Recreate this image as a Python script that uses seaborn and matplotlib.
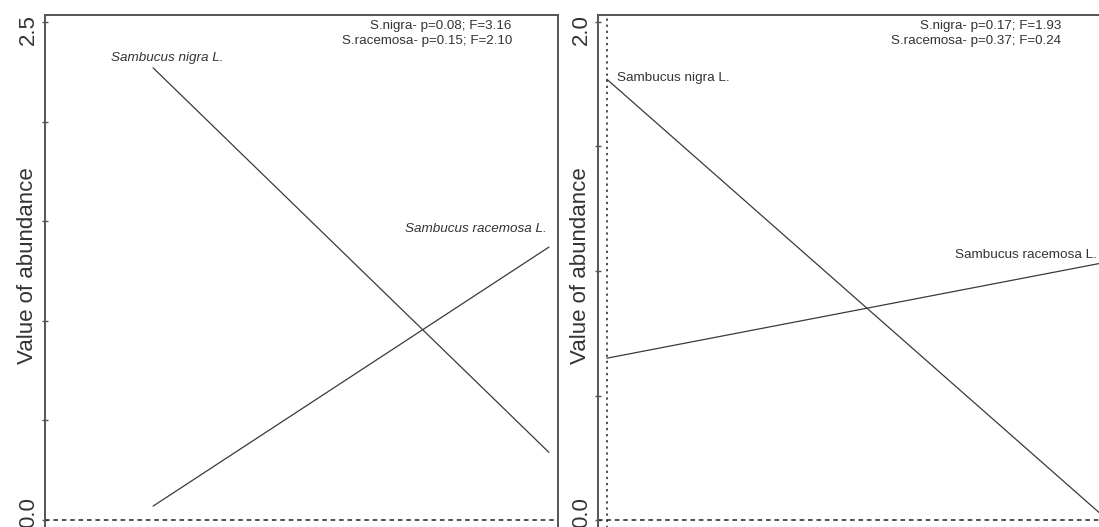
import numpy as np
import pandas as pd
import matplotlib.pyplot as plt
import matplotlib.transforms as mtransforms
import seaborn as sns

# Response curves (start / end of each line)
x_pos = [0, 1]
left_nigra = [2.27, 0.34]
left_racemosa = [0.07, 1.37]
right_nigra = [1.77, 0.03]
right_racemosa = [0.65, 1.03]

left_yticks = [0.0, 0.5, 1.0, 1.5, 2.0, 2.5]
left_ylabels = ['0.0', '', '', '', '', '2.5']
right_yticks = [0.0, 0.5, 1.0, 1.5, 2.0]
right_ylabels = ['0.0', '', '', '', '2.0']

left_stats = "S.nigra- p=0.08; F=3.16\nS.racemosa- p=0.15; F=2.10"
right_stats = "S.nigra- p=0.17; F=1.93\nS.racemosa- p=0.37; F=0.24"

sns.set_style("ticks")
plt.rcParams['font.family'] = ['Liberation Sans', 'DejaVu Sans']

line_col = '#3a3a3a'
spine_col = '#555555'
text_col = '#333333'

W, H = 1099, 527
fig = plt.figure(figsize=(W / 100, H / 100), dpi=100)


def px_axes(x0, x1, y0, y1):
    # pixel box (top-left origin) -> figure fraction
    return fig.add_axes([x0 / W, 1 - y1 / H, (x1 - x0) / W, (y1 - y0) / H])


ax1 = px_axes(45, 558, 15, 540)
ax2 = px_axes(598, 1110, 15, 540)

left_df = pd.DataFrame({
    'x': x_pos * 2,
    'y': left_nigra + left_racemosa,
    'species': ['Sambucus nigra L.'] * 2 + ['Sambucus racemosa L.'] * 2,
})
right_df = pd.DataFrame({
    'x': x_pos * 2,
    'y': right_nigra + right_racemosa,
    'species': ['Sambucus nigra L.'] * 2 + ['Sambucus racemosa L.'] * 2,
})

for ax, df in [(ax1, left_df), (ax2, right_df)]:
    sns.lineplot(data=df, x='x', y='y', units='species', estimator=None,
                 color=line_col, linewidth=0.9, ax=ax, legend=False)

# limits chosen so the lines sit where they do in the picture
ax1.set_xlim(-0.273, 1.023)
ax1.set_ylim(-0.10, 2.535)
ax2.set_xlim(-0.018, 1.022)
ax2.set_ylim(-0.08, 2.028)

ax1.set_yticks(left_yticks, labels=left_ylabels)
ax2.set_yticks(right_yticks, labels=right_ylabels)

for ax in (ax1, ax2):
    ax.set_xticks([])
    ax.set_xlabel('')
    ax.set_ylabel('Value of abundance', fontsize=16, color=text_col, va='center')
    ax.yaxis.set_label_coords(-0.034, 0.522)
    ax.tick_params(axis='y', direction='inout', length=5, width=1,
                   color=spine_col, labelsize=16, labelcolor=text_col, pad=3)
    for lab in ax.get_yticklabels():
        lab.set_rotation(90)
        lab.set_va('center')
    for s in ax.spines.values():
        s.set_color(spine_col)
        s.set_linewidth(1.4)
    ax.axhline(0, color='#222222', lw=1.1, ls=(0, (3, 2.5)))

# nudge the end labels inwards as in the picture
for ax in (ax1, ax2):
    labs = ax.get_yticklabels()
    labs[0].set_transform(labs[0].get_transform() +
                          mtransforms.ScaledTranslation(0.02, 0.08, fig.dpi_scale_trans))
    labs[-1].set_transform(labs[-1].get_transform() +
                           mtransforms.ScaledTranslation(0.02, -0.08, fig.dpi_scale_trans))

ax2.axvline(0, color='#222222', lw=1.1, ls=(0, (1.5, 2.5)))

# annotations
ax1.text(0.910, 0.990, left_stats, transform=ax1.transAxes, ha='right', va='top',
         fontsize=9.6, color=text_col, linespacing=1.35)
ax2.text(0.905, 0.990, right_stats, transform=ax2.transAxes, ha='right', va='top',
         fontsize=9.6, color=text_col, linespacing=1.35)

ax1.text(0.035, 2.32, 'Sambucus nigra L.', ha='center', va='center',
         fontsize=9.7, style='italic', color=text_col)
ax1.text(0.816, 1.46, 'Sambucus racemosa L.', ha='center', va='center',
         fontsize=9.7, style='italic', color=text_col)
ax2.text(0.02, 1.775, 'Sambucus nigra L.', ha='left', va='center',
         fontsize=9.7, color=text_col)
ax2.text(0.707, 1.064, 'Sambucus racemosa L.', ha='left', va='center',
         fontsize=9.7, color=text_col)

fig.savefig('out.png', dpi=100)
